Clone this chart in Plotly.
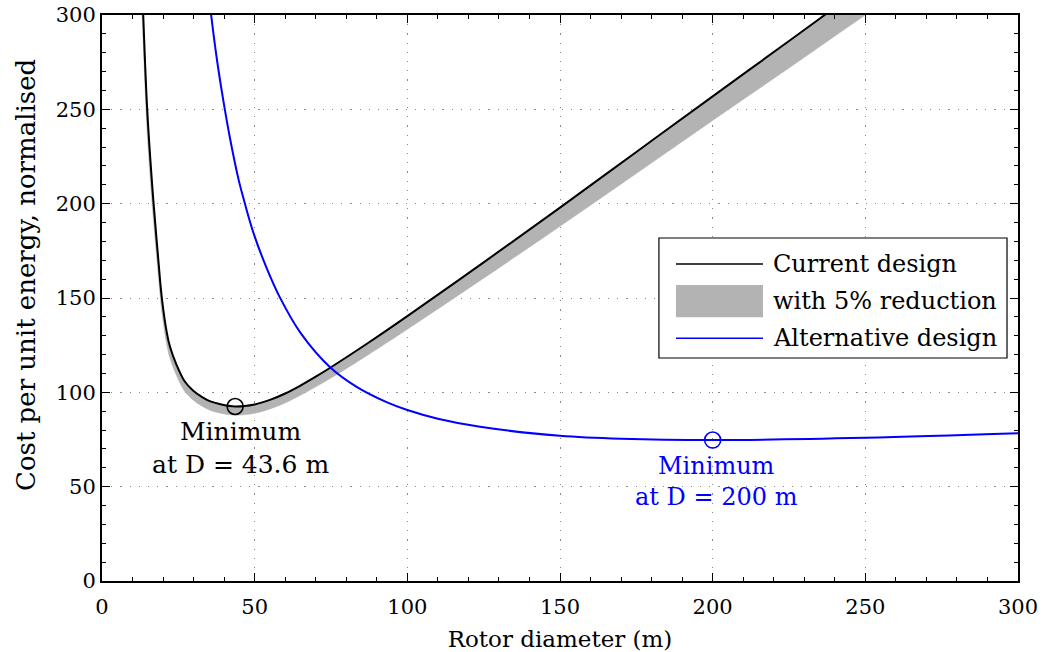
import plotly.graph_objects as go

# ---- data ----
current_d = [13.0, 13.5, 14.8, 16.8, 18.2, 19.6, 21.3, 22.3, 24.3, 27.0, 29.8, 32.8, 35.5, 38.5, 43.6,
             50, 55, 60, 65, 70, 75, 87, 100, 125, 150, 175, 200, 225, 250, 260]
current_cost = [322, 300, 250, 202, 175, 150, 131, 124, 115, 106, 101, 97.5, 95.2, 93.8, 92.5,
                93.6, 96.0, 99.4, 103.6, 108.3, 113.3, 126.0, 140.4, 168.9, 197.9, 227.4, 256.9, 286.2, 315.8, 327.5]
reduced_cost = [305.9, 285, 237.5, 191.9, 166.3, 142.5, 124.5, 117.8, 109.3, 100.7, 96.0, 92.6, 90.4, 89.1, 87.9,
                88.9, 91.2, 94.4, 98.4, 102.9, 107.6, 119.7, 133.4, 160.5, 188.0, 216.0, 244.1, 271.9, 300.0, 311.1]

alt_d = [34.5, 35.6, 37.5, 39.7, 42, 44.7, 46.3, 49.6, 53.9, 58.3, 64.9, 74.7, 83.4, 93.2, 100, 110,
         123.8, 150, 170, 200, 250, 300]
alt_cost = [318, 302, 278, 255, 234, 213, 203, 184.5, 166, 150.2, 131.8, 113.3, 102.9, 94.8, 90.6, 86.0,
            81.7, 77.0, 75.4, 74.7, 75.9, 78.3]

min_current = (43.6, 92.5)
min_alt = (200, 74.7)

x_ticks = [0, 50, 100, 150, 200, 250, 300]
y_ticks = [0, 50, 100, 150, 200, 250, 300]

FONT = "DejaVu Serif"
FS_TICK = 21
GRAY = "#b3b3b3"
BLUE = "#0000ff"

fig = go.Figure()

line_kw = dict(shape="spline", smoothing=1.0)

# band: upper boundary (current), lower boundary filled to it
fig.add_trace(go.Scatter(x=current_d, y=current_cost, mode="lines",
                         line=dict(width=0, color=GRAY, **line_kw),
                         showlegend=False, hoverinfo="skip"))
fig.add_trace(go.Scatter(x=current_d, y=reduced_cost, mode="lines", fill="tonexty",
                         fillcolor=GRAY, line=dict(width=0.5, color=GRAY, **line_kw),
                         name="with 5% reduction", showlegend=False))
fig.add_trace(go.Scatter(x=current_d, y=current_cost, mode="lines",
                         line=dict(width=2, color="black", **line_kw),
                         name="Current design", showlegend=False))
fig.add_trace(go.Scatter(x=alt_d, y=alt_cost, mode="lines",
                         line=dict(width=2, color=BLUE, **line_kw),
                         name="Alternative design", showlegend=False))

# minimum markers
fig.add_trace(go.Scatter(x=[min_current[0]], y=[min_current[1]], mode="markers",
                         marker=dict(symbol="circle-open", size=16, color="black", line=dict(width=1.6)),
                         showlegend=False))
fig.add_trace(go.Scatter(x=[min_alt[0]], y=[min_alt[1]], mode="markers",
                         marker=dict(symbol="circle-open", size=16, color=BLUE, line=dict(width=1.6)),
                         showlegend=False))

# annotations for minima
fig.add_annotation(x=45.2, y=70.5, text="Minimum<br>at D = 43.6 m", showarrow=False,
                   font=dict(family=FONT, size=25, color="black"), xanchor="center", yanchor="middle")
fig.add_annotation(x=201.4, y=53, text="Minimum<br>at D = 200 m", showarrow=False,
                   font=dict(family=FONT, size=24, color=BLUE), xanchor="center", yanchor="middle")

# ---- manual legend ----
lx0, lx1 = 0.608, 0.988
ly0, ly1 = 0.394, 0.606
fig.add_shape(type="rect", xref="paper", yref="paper", x0=lx0, x1=lx1, y0=ly0, y1=ly1,
              line=dict(color="black", width=1.2), fillcolor="white", layer="above")
sx0, sx1, tx = 0.6266, 0.7216, 0.7304
rows = [0.560, 0.495, 0.429]
fig.add_shape(type="line", xref="paper", yref="paper", x0=sx0, x1=sx1, y0=rows[0], y1=rows[0],
              line=dict(color="black", width=1.5), layer="above")
fig.add_shape(type="rect", xref="paper", yref="paper", x0=sx0, x1=sx1, y0=0.466, y1=0.523,
              line=dict(width=0), fillcolor=GRAY, layer="above")
fig.add_shape(type="line", xref="paper", yref="paper", x0=sx0, x1=sx1, y0=rows[2], y1=rows[2],
              line=dict(color=BLUE, width=1.5), layer="above")
for label, ry in zip(["Current design", "with 5% reduction", "Alternative design"], rows):
    fig.add_annotation(xref="paper", yref="paper", x=tx, y=ry, text=label, showarrow=False,
                       xanchor="left", yanchor="middle", font=dict(family=FONT, size=24, color="black"))

# y-axis title (placed as rotated text, offset like the reference)
fig.add_annotation(xref="paper", yref="paper", x=-0.083, y=0.5406, text="Cost per unit energy, normalised",
                   textangle=-90, showarrow=False, xanchor="center", yanchor="middle",
                   font=dict(family=FONT, size=26, color="black"))

axis_common = dict(
    showline=True, linecolor="black", linewidth=2, mirror="allticks",
    ticks="inside", ticklen=8, tickwidth=1.2, tickcolor="black",
    showgrid=True, gridcolor="#8a8a8a", gridwidth=1, griddash="1.2px,8px",
    zeroline=False, automargin=False,
    tickfont=dict(family=FONT, size=FS_TICK, color="black"),
    minor=dict(dtick=10, ticks="inside", ticklen=4, tickwidth=1, tickcolor="black", showgrid=False),
)

fig.update_xaxes(range=[0, 300], tickvals=x_ticks, ticktext=[str(v) for v in x_ticks],
                 ticklabelstandoff=6,
                 title=dict(text="Rotor diameter (m)", font=dict(family=FONT, size=23, color="black"), standoff=14),
                 **axis_common)
fig.update_yaxes(range=[0, 300], tickvals=y_ticks, ticktext=[str(v) for v in y_ticks],
                 ticklabelstandoff=0,
                 **axis_common)

fig.update_layout(
    width=1045, height=652,
    margin=dict(l=102, r=27, t=15, b=71),
    paper_bgcolor="white", plot_bgcolor="white",
    font=dict(family=FONT, size=FS_TICK, color="black"),
    showlegend=False,
)

fig.write_html("out.html")
